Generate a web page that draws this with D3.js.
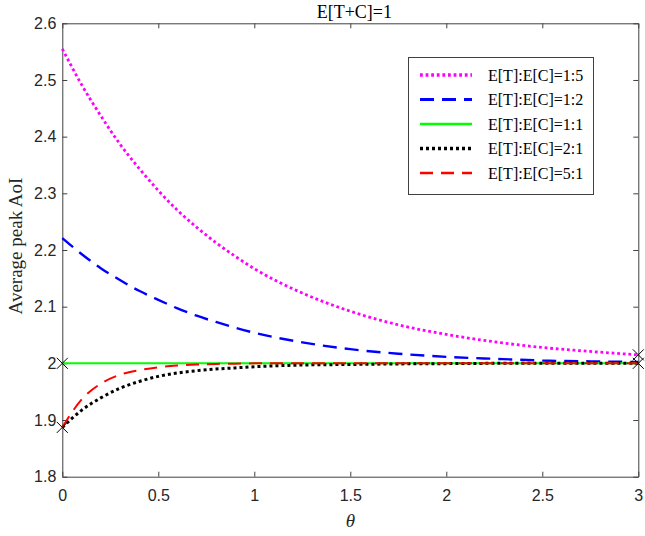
<!DOCTYPE html>
<html>
<head>
<meta charset="utf-8">
<script src="https://cdn.jsdelivr.net/npm/d3@7"></script>
<style>
  html, body { margin: 0; padding: 0; background: #fff; }
  svg { display: block; }
</style>
</head>
<body>
<svg id="chart" width="645" height="536"></svg>
<script>
// ---- data ----
const theta = [0, 0.1, 0.2, 0.3, 0.4, 0.5, 0.6, 0.7, 0.8, 0.9, 1.0, 1.25, 1.5, 1.75, 2.0, 2.25, 2.5, 2.75, 3.0];
const ratio15 = [2.555, 2.492, 2.437, 2.387, 2.344, 2.305, 2.270, 2.240, 2.213, 2.189, 2.167, 2.124, 2.092, 2.068, 2.051, 2.038, 2.028, 2.021, 2.015];
const ratio12 = [2.221, 2.193, 2.168, 2.147, 2.128, 2.112, 2.097, 2.084, 2.073, 2.063, 2.054, 2.037, 2.025, 2.017, 2.0115, 2.008, 2.005, 2.0035, 2.0025];
const ratio11 = [2.0, 2.0, 2.0, 2.0, 2.0, 2.0, 2.0, 2.0, 2.0, 2.0, 2.0, 2.0, 2.0, 2.0, 2.0, 2.0, 2.0, 2.0, 2.0];
const ratio21 = [1.887, 1.917, 1.939, 1.956, 1.968, 1.977, 1.983, 1.987, 1.990, 1.992, 1.994, 1.997, 1.998, 1.999, 1.9995, 2.0, 2.0, 2.0, 2.0];
const ratio51 = [1.887, 1.936, 1.964, 1.980, 1.988, 1.993, 1.996, 1.998, 1.999, 1.9995, 2.0, 2.0, 2.0, 2.0, 2.0, 2.0, 2.0, 2.0, 2.0];
const seriesNames = ["E[T]:E[C]=1:5", "E[T]:E[C]=1:2", "E[T]:E[C]=1:1", "E[T]:E[C]=2:1", "E[T]:E[C]=5:1"];
const markerTheta = [0, 0, 3, 3];
const markerValue = [2.0, 1.887, 2.015, 2.0];
const xTicks = [0, 0.5, 1, 1.5, 2, 2.5, 3];
const yTicks = [1.8, 1.9, 2.0, 2.1, 2.2, 2.3, 2.4, 2.5, 2.6];
const titleText = "E[T+C]=1";
const xLabel = "θ";
const yLabel = "Average peak AoI";

// ---- styles ----
const styles = [
  { color: "#ff00ff", width: 2.8, dash: "2.8,2.8" },
  { color: "#0000ff", width: 2.4, dash: "14,8" },
  { color: "#00ff00", width: 2, dash: null },
  { color: "#000000", width: 3, dash: "3,3" },
  { color: "#ff0000", width: 2, dash: "13,8" }
];

const svg = d3.select("#chart");
const L = 62.3, R = 638.3, T = 23.3, B = 476.7;
const x = d3.scaleLinear().domain([0, 3]).range([L, R]);
const y = d3.scaleLinear().domain([1.8, 2.6]).range([B, T]);
const axisColor = "#404040";
const tickFont = "'Liberation Sans', Arial, Helvetica, sans-serif";
const serif = "'Liberation Serif', 'Times New Roman', serif";

// axes
const gx = svg.append("g").attr("transform", `translate(0,${B})`)
  .call(d3.axisBottom(x).tickValues(xTicks).tickFormat(d3.format("")).tickSizeInner(-5).tickSizeOuter(0).tickPadding(13));
const gxTop = svg.append("g").attr("transform", `translate(0,${T})`)
  .call(d3.axisTop(x).tickValues(xTicks).tickFormat("").tickSizeInner(-5).tickSizeOuter(0));
const gy = svg.append("g").attr("transform", `translate(${L},0)`)
  .call(d3.axisLeft(y).tickValues(yTicks).tickFormat(d3.format("")).tickSizeInner(-5).tickSizeOuter(0).tickPadding(6));
const gyR = svg.append("g").attr("transform", `translate(${R},0)`)
  .call(d3.axisRight(y).tickValues(yTicks).tickFormat("").tickSizeInner(-5).tickSizeOuter(0));
[gx, gxTop, gy, gyR].forEach(g => {
  g.selectAll("path.domain").attr("stroke", axisColor).attr("stroke-width", 1);
  g.selectAll(".tick line").attr("stroke", axisColor);
  g.selectAll(".tick text").attr("fill", "#262626").style("font-family", tickFont).style("font-size", "16px");
});

// lines
const allSeries = [ratio15, ratio12, ratio11, ratio21, ratio51];
const line = d3.line().x(d => x(d[0])).y(d => y(d[1])).curve(d3.curveMonotoneX);
allSeries.forEach((vals, i) => {
  const pts = theta.map((t, j) => [t, vals[j]]);
  const p = svg.append("path").datum(pts)
    .attr("d", line).attr("fill", "none")
    .attr("stroke", styles[i].color).attr("stroke-width", styles[i].width);
  if (styles[i].dash) p.attr("stroke-dasharray", styles[i].dash);
});

// X markers
const ms = 5.5;
markerTheta.forEach((t, i) => {
  const cx = x(t), cy = y(markerValue[i]);
  svg.append("path")
    .attr("d", `M${cx - ms},${cy - ms}L${cx + ms},${cy + ms}M${cx - ms},${cy + ms}L${cx + ms},${cy - ms}`)
    .attr("stroke", "#000").attr("stroke-width", 1).attr("fill", "none");
});

// title and labels
svg.append("text").attr("x", (L + R) / 2 + 4).attr("y", 18).attr("text-anchor", "middle")
  .style("font-family", serif).style("font-size", "18px").attr("fill", "#000").text(titleText);
svg.append("text").attr("x", (L + R) / 2).attr("y", 527).attr("text-anchor", "middle")
  .style("font-family", serif).style("font-size", "19px").style("font-style", "italic").attr("fill", "#262626").text(xLabel);
svg.append("text").attr("transform", `translate(22,${(T + B) / 2 - 4}) rotate(-90)`).attr("text-anchor", "middle")
  .style("font-family", serif).style("font-size", "19px").attr("fill", "#262626").text(yLabel);

// legend
const lg = svg.append("g");
lg.append("rect").attr("x", 408.5).attr("y", 57.5).attr("width", 185).attr("height", 137)
  .attr("fill", "#fff").attr("stroke", axisColor).attr("stroke-width", 1);
const legY = [75, 99.5, 124, 148.5, 173];
seriesNames.forEach((name, i) => {
  const ly = legY[i];
  const l = lg.append("line").attr("x1", 420).attr("x2", 472).attr("y1", ly).attr("y2", ly)
    .attr("stroke", styles[i].color).attr("stroke-width", styles[i].width + 0.5);
  if (styles[i].dash) l.attr("stroke-dasharray", styles[i].dash);
  lg.append("text").attr("x", 488).attr("y", ly + 5.5)
    .style("font-family", serif).style("font-size", "16px").attr("fill", "#000").text(name);
});
</script>
</body>
</html>
